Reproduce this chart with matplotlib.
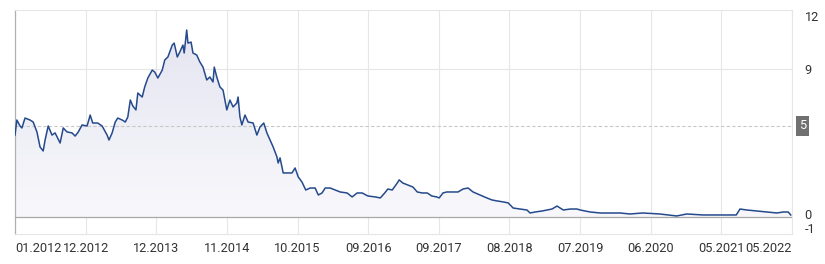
import numpy as np
import matplotlib
matplotlib.use("Agg")
import matplotlib.pyplot as plt
import matplotlib.transforms as mtransforms

plt.rcParams['font.family'] = ['Roboto', 'DejaVu Sans']

# months since 01.2012, value
months = [0.0, 0.3, 0.8, 1.1, 1.6, 2.4, 2.9, 3.5, 4.0, 4.5, 4.8, 5.3, 5.9, 6.4, 7.2, 7.7,
          8.3, 9.1, 9.6, 10.1, 10.7, 11.5, 12.0, 12.4, 13.2, 13.9, 14.7, 15.0, 15.5, 16.0,
          16.4, 17.1, 17.6, 18.0, 18.4, 18.8, 19.3, 19.6, 20.3, 20.7, 21.2, 21.9, 22.3, 22.8,
          23.5, 23.9, 24.4, 25.1, 25.4, 25.9, 26.3, 26.8, 27.0, 27.4, 27.6, 28.1, 28.4, 29.0,
          29.5, 30.0, 30.6, 31.1, 31.6, 31.8, 32.2, 32.7, 33.2, 33.8, 34.3, 34.8, 35.4, 35.6,
          35.9, 36.2, 36.7, 37.2, 38.0, 38.6, 39.1, 39.7, 40.2, 40.7, 41.2, 41.8, 42.0, 42.3,
          42.8, 43.4, 44.2, 44.7, 45.2, 45.8, 46.4, 47.1, 47.9, 48.4, 49.0, 49.5, 50.3, 51.1,
          51.9, 53.0, 53.8, 54.6, 55.4, 56.3, 57.5, 58.3, 59.0, 59.5, 60.2, 61.0, 61.3, 61.9,
          62.7, 63.5, 64.2, 65.0, 65.8, 66.5, 67.3, 67.7, 68.3, 68.9, 69.9, 70.7, 71.5, 72.3,
          73.1, 74.2, 75.3, 76.1, 76.9, 77.9, 78.7, 79.5, 80.6, 81.7, 82.2, 83.0, 84.1, 84.9,
          85.7, 86.5, 87.5, 88.6, 89.7, 90.2, 91.8, 93.4, 96.6, 98.1, 100.2, 102.9, 105.6,
          107.2, 109.8, 112.5, 115.1, 115.7, 116.8, 118.4, 120.0, 121.6, 122.6, 123.4, 123.8]
values = [4.98, 5.89, 5.53, 5.41, 6.01, 5.89, 5.77, 5.17, 4.26, 4.02, 4.68, 5.53, 4.98, 5.11,
          4.50, 5.41, 5.17, 5.11, 4.92, 5.17, 5.59, 5.53, 6.19, 5.71, 5.71, 5.53, 4.98, 4.68,
          5.11, 5.77, 6.01, 5.89, 5.77, 6.07, 7.10, 6.74, 6.50, 7.52, 7.28, 7.89, 8.43, 8.91,
          8.79, 8.43, 8.91, 9.52, 9.70, 10.42, 10.54, 9.70, 10.00, 10.42, 9.94, 11.33, 10.54,
          10.60, 9.94, 9.82, 9.40, 9.09, 8.31, 8.49, 8.19, 9.09, 8.49, 7.89, 7.70, 6.50, 7.10,
          6.68, 6.92, 7.28, 6.07, 5.59, 6.19, 5.77, 5.71, 4.98, 5.47, 5.71, 5.11, 4.68, 4.26,
          3.66, 3.29, 3.60, 2.69, 2.69, 2.69, 2.99, 2.45, 2.14, 1.66, 1.78, 1.78, 1.36, 1.48,
          1.78, 1.78, 1.66, 1.54, 1.48, 1.24, 1.48, 1.48, 1.30, 1.24, 1.18, 1.48, 1.72, 1.66,
          2.08, 2.27, 2.08, 1.96, 1.84, 1.54, 1.48, 1.48, 1.30, 1.24, 1.18, 1.48, 1.54, 1.54,
          1.54, 1.72, 1.78, 1.54, 1.36, 1.18, 1.06, 1.00, 0.94, 0.88, 0.57, 0.51, 0.45, 0.27,
          0.33, 0.39, 0.45, 0.51, 0.69, 0.45, 0.51, 0.51, 0.45, 0.33, 0.27, 0.27, 0.21, 0.27,
          0.21, 0.09, 0.21, 0.15, 0.15, 0.15, 0.51, 0.45, 0.39, 0.33, 0.27, 0.33, 0.33, 0.15]

x_labels = ["01.2012", "12.2012", "12.2013", "11.2014", "10.2015", "09.2016",
            "09.2017", "08.2018", "07.2019", "06.2020", "05.2021", "05.2022"]
x_span = 124  # months from 01.2012 to 05.2022
y_ticks = [12, 9, 0, -1]
ref_level = 5.53
ref_label = "5"

months = np.array(months)
values = np.array(values)

fig = plt.figure(figsize=(8.25, 2.64), dpi=100)
ax = fig.add_axes([15 / 825, 30 / 264, 777 / 825, 224 / 264])
ax.set_xlim(0, x_span)
ax.set_ylim(-1, 12.54)

# gradient fill under the line (darker at the top)
grad = np.linspace(1, 0, 256).reshape(-1, 1)
cmap = matplotlib.colors.LinearSegmentedColormap.from_list("g", ["#f8f8fc", "#e5e5f1"])
im = ax.imshow(grad, extent=[0, x_span, 0, values.max()], aspect="auto",
               cmap=cmap, origin="upper", zorder=1)
poly = ax.fill_between(months, values, 0, color="none", lw=0)
clip = poly.get_paths()[0]
im.set_clip_path(clip, transform=ax.transData)

ax.plot(months, values, color="#254a8c", lw=1.1, zorder=4)

# grid
tick_pos = np.linspace(0, x_span, len(x_labels))
for t in tick_pos:
    ax.axvline(t, color="#e6e6e6", lw=0.8, zorder=0)
ax.axhline(9, color="#e6e6e6", lw=0.8, zorder=0)
ax.axhline(0, color="#a8a8a8", lw=0.9, zorder=3)
ax.axhline(ref_level, color="#c8c8c8", lw=0.8, ls=(0, (3, 2)), zorder=2)

for side in ["top", "right", "bottom"]:
    ax.spines[side].set_color("#e6e6e6")
    ax.spines[side].set_linewidth(0.8)
ax.spines["left"].set_color("#b0b0b0")
ax.spines["left"].set_linewidth(0.9)

ax.set_xticks(tick_pos)
ax.set_xticklabels(x_labels, fontsize=9.2, color="#333333")
ax.tick_params(axis="x", length=0, pad=6)
lbls = ax.get_xticklabels()
lbls[0].set_ha("left")
lbls[-1].set_ha("right")

ax.yaxis.tick_right()
ax.set_yticks(y_ticks)
ax.set_yticklabels([str(t) for t in y_ticks], fontsize=9.2, color="#333333")
ax.tick_params(axis="y", length=0, pad=9)
ylbls = ax.get_yticklabels()
shifts = {12: 3, 9: 0, 0: 3, -1: 6}
for t, lb in zip(y_ticks, ylbls):
    lb.set_ha("left")
    lb.set_transform(lb.get_transform() + mtransforms.ScaledTranslation(0, shifts[t] / 100, fig.dpi_scale_trans))

ax.text(1.0, ref_level, ref_label, transform=ax.get_yaxis_transform(),
        fontsize=9.2, color="white", ha="left", va="center",
        bbox=dict(boxstyle="square,pad=0.25", fc="#707070", ec="none"))
# move the box a little right of the axis
ax.texts[-1].set_transform(ax.get_yaxis_transform() + mtransforms.ScaledTranslation(7 / 100, 0, fig.dpi_scale_trans))

fig.savefig("out.png", dpi=100)
